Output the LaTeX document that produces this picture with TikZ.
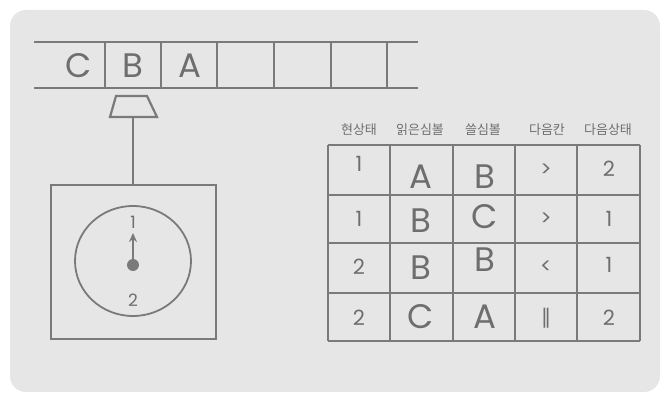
\documentclass[tikz,border=0pt]{standalone}
\usepackage{fontspec}
\setmainfont{Poppins}
\newfontfamily\cjk{Noto Sans CJK KR}
\newfontfamily\symfont{DejaVu Sans}
\usepackage{xcolor}
\definecolor{panel}{HTML}{E6E6E6}
\definecolor{ink}{HTML}{7A7A7A}
\definecolor{label}{HTML}{6E6E6E}
\usetikzlibrary{positioning,arrows.meta}

\begin{document}
\begin{tikzpicture}[x=1pt,y=-1pt,
    rule/.style={draw=ink, line width=2.2pt},
    grid/.style={draw=ink, line width=1.2pt},
    sym/.style={font=\fontsize{34}{34}\selectfont\color{label}, inner sep=0pt},
    num/.style={font=\fontsize{21}{21}\selectfont\color{label}, inner sep=0pt},
    head/.style={font=\cjk\fontsize{13}{13}\selectfont\color{label}, inner sep=0pt}]
  \useasboundingbox (0,0) rectangle (670,403);
  \fill[panel, rounded corners=16pt] (10,10) rectangle (660,392);

  % tape
  \draw[rule] (34,42) -- (418,42);
  \draw[rule] (34,88) -- (418,88);
  \foreach \x in {105,161,217,274,331,387}
    \draw[rule] (\x,42) -- (\x,88);
  \node[sym] (tc) at (79,66) {C};
  \node[sym] (tb) at (133,66) {B};
  \node[sym] (ta) at (190,66) {A};

  % head and control box
  \draw[rule] (116,96) -- (147,96) -- (157,117) -- (110,117) -- cycle;
  \coordinate (headbot) at (133,117);
  \node[rule, minimum width=165pt, minimum height=154pt, inner sep=0pt]
       (ctrl) at (133.5,262) {};
  \draw[rule] (headbot) -- (ctrl.north -| headbot);
  \draw[draw=ink, line width=1.8pt] (133,261) ellipse (58pt and 55pt);
  \node[num, font=\fontsize{17}{17}\selectfont\color{label}] (s1) at (133,222) {1};
  \node[num, font=\fontsize{17}{17}\selectfont\color{label}] (s2) at (133,300) {2};
  \node[circle, fill=ink, minimum size=12pt, inner sep=0pt] (dot) at (133,265) {};
  \draw[draw=ink, line width=2pt, -{Stealth[length=9pt,width=8pt]}]
       (dot.center) -- (133,233);

  % rule table
  \node[head] (h1) at (359,130) {현상태};
  \node[head] (h2) at (420,130) {읽은심볼};
  \node[head] (h3) at (483,130) {쓸심볼};
  \node[head] (h4) at (547,130) {다음칸};
  \node[head] (h5) at (608,130) {다음상태};
  \foreach \x in {328,390,453,515,577,640}
    \draw[grid] (\x,145) -- (\x,341);
  \foreach \y in {145,195,243,293,341}
    \draw[grid] (328,\y) -- (640,\y);

  \node[num] (r1a) at (359,164) {1};
  \node[sym] (r1b) at (421,177) {A};
  \node[sym] (r1c) at (485,177) {B};
  \node[num] (r1d) at (546,170) {>};
  \node[num] (r1e) at (609,169) {2};

  \node[num] (r2a) at (359,219) {1};
  \node[sym] (r2b) at (421,221) {B};
  \node[sym] (r2c) at (485,217) {C};
  \node[num] (r2d) at (546,219) {>};
  \node[num] (r2e) at (609,219) {1};

  \node[num] (r3a) at (359,267) {2};
  \node[sym] (r3b) at (421,268) {B};
  \node[sym] (r3c) at (485,260) {B};
  \node[num] (r3d) at (546,267) {<};
  \node[num] (r3e) at (609,265) {1};

  \node[num] (r4a) at (359,318) {2};
  \node[sym] (r4b) at (421,317) {C};
  \node[sym] (r4c) at (485,317) {A};
  \node[num, font=\symfont\fontsize{20}{20}\selectfont\color{label}] (r4d) at (546,318) {‖};
  \node[num] (r4e) at (609,318) {2};
\end{tikzpicture}
\end{document}
